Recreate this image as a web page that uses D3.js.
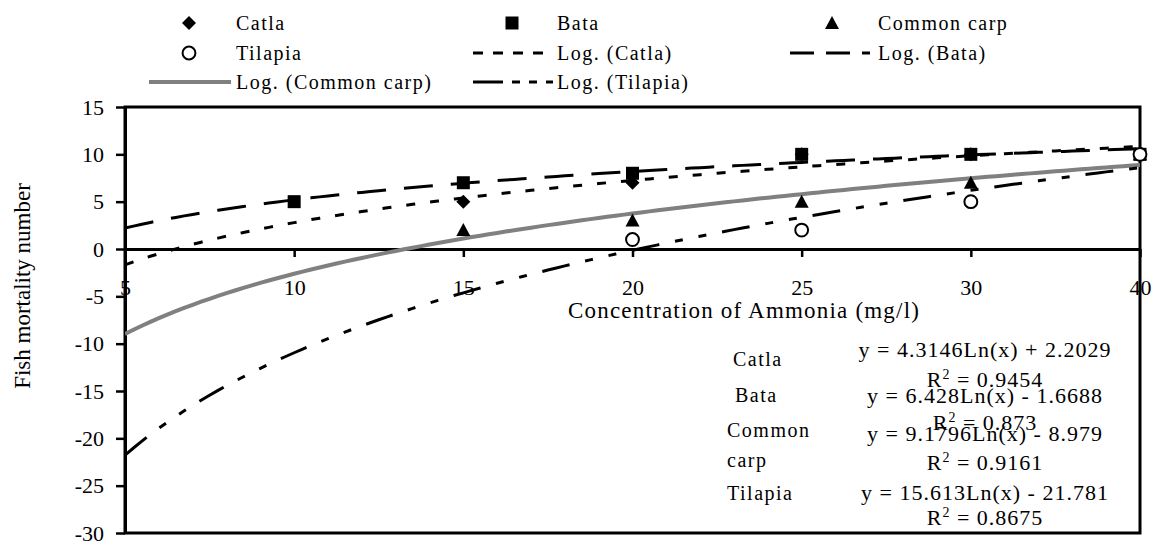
<!DOCTYPE html>
<html lang="en">
<head>
  <meta charset="utf-8" />
  <title>Fish mortality vs ammonia</title>
  <script src="https://cdn.jsdelivr.net/npm/d3@7"></script>
  <style>
    body { margin: 0; background: #fff; }
    text { font-family: "Liberation Serif", "Times New Roman", serif; fill: #000; }
  </style>
</head>
<body>
  <script>
    // data
    var cats = ["5", "10", "15", "20", "25", "30", "40"];
    var catla = [null, null, 5, 7, 10, 10, 10];
    var bata = [null, 5, 7, 8, 10, 10, 10];
    var commonCarp = [null, null, 2, 3, 5, 7, 10];
    var tilapia = [null, null, null, 1, 2, 5, 10];
    var yTicks = [15, 10, 5, 0, -5, -10, -15, -20, -25, -30];
    var boxNames = ["Catla", "Bata", "Common", "Tilapia"];
    var eqLabels = ["y = 4.3146Ln(x) + 2.2029", "y = 6.428Ln(x) - 1.6688", "y = 9.1796Ln(x) - 8.979", "y = 15.613Ln(x) - 21.781"];
    var r2Labels = ["0.9454", "0.873", "0.9161", "0.8675"];

    var width = 1152, height = 543;
    var plotL = 125, plotR = 1140, plotT = 107, plotB = 533;

    var svg = d3.select("body").append("svg").attr("width", width).attr("height", height);

    // category index 1..7, like Excel's line chart trendline x
    var x = d3.scaleLinear().domain([1, cats.length]).range([plotL, plotR]);
    var y = d3.scaleLinear().domain([-30, 15]).range([plotB, plotT]);

    // log trendline fit: y = a ln(t) + b
    function logFit(vals) {
      var pts = vals.map(function(v, i) { return [Math.log(i + 1), v]; }).filter(function(p) { return p[1] != null; });
      var mx = d3.mean(pts, function(p) { return p[0]; }), my = d3.mean(pts, function(p) { return p[1]; });
      var sxy = d3.sum(pts, function(p) { return (p[0] - mx) * (p[1] - my); });
      var sxx = d3.sum(pts, function(p) { return (p[0] - mx) * (p[0] - mx); });
      var a = sxy / sxx;
      return { a: a, b: my - a * mx };
    }

    var series = [
      { name: "Catla", vals: catla, sym: "diamond", dash: "9,15", color: "#000", w: 3, legDash: "10,10" },
      { name: "Bata", vals: bata, sym: "square", dash: "29,18", color: "#000", w: 3, legDash: "24,12" },
      { name: "Common carp", vals: commonCarp, sym: "triangle", dash: null, color: "#808080", w: 4, legDash: null },
      { name: "Tilapia", vals: tilapia, sym: "circle", dash: "28,16,8,16,8,16", color: "#000", w: 3, legDash: "30,9,8,9,8,9" }
    ];

    function symbolPath(type) {
      if (type == "diamond") return "M0,-7L7,0L0,7L-7,0Z";
      if (type == "square") return "M-6.5,-6.5H6.5V6.5H-6.5Z";
      if (type == "triangle") return "M0,-7L7,6H-7Z";
      return d3.symbol(d3.symbolCircle, 130)();
    }
    function drawSymbol(g, type, cx, cy) {
      var p = g.append("path").attr("d", symbolPath(type)).attr("transform", "translate(" + cx + "," + cy + ")");
      if (type == "circle") p.attr("fill", "#fff").attr("stroke", "#000").attr("stroke-width", 2);
      else p.attr("fill", "#000");
    }

    svg.append("clipPath").attr("id", "plot").append("rect")
      .attr("x", plotL).attr("y", plotT).attr("width", plotR - plotL).attr("height", plotB - plotT);

    // axes
    var yAxis = svg.append("g").attr("transform", "translate(" + plotL + ",0)")
      .call(d3.axisLeft(y).tickValues(yTicks).tickSize(9).tickSizeOuter(0).tickPadding(12)
        .tickFormat(function(d) { return String(d); }));
    var xAxis = svg.append("g").attr("transform", "translate(0," + y(0) + ")")
      .call(d3.axisBottom(x).tickValues(d3.range(1, cats.length + 1)).tickSize(8).tickSizeOuter(0).tickPadding(22)
        .tickFormat(function(i) { return cats[i - 1]; }));
    [yAxis, xAxis].forEach(function(a) {
      a.selectAll("text").attr("font-size", 22).attr("font-family", "Liberation Serif, serif").attr("fill", "#000");
      a.selectAll("line").attr("stroke", "#000").attr("stroke-width", 2.5);
      a.select(".domain").attr("stroke", "#000").attr("stroke-width", 3);
    });

    svg.append("rect").attr("x", plotL).attr("y", plotT).attr("width", plotR - plotL).attr("height", plotB - plotT)
      .attr("fill", "none").attr("stroke", "#000").attr("stroke-width", 3);

    // trendlines
    var tSteps = d3.range(1, cats.length + 0.001, 0.05);
    var plot = svg.append("g").attr("clip-path", "url(#plot)");
    series.forEach(function(s) {
      var f = logFit(s.vals);
      var line = d3.line().x(function(t) { return x(t); }).y(function(t) { return y(f.a * Math.log(t) + f.b); });
      plot.append("path").attr("d", line(tSteps)).attr("fill", "none")
        .attr("stroke", s.color).attr("stroke-width", s.w).attr("stroke-dasharray", s.dash);
    });

    // markers
    series.forEach(function(s) {
      var g = svg.append("g");
      s.vals.forEach(function(v, i) {
        if (v != null) drawSymbol(g, s.sym, x(i + 1), y(v));
      });
    });

    // axis titles
    svg.append("text").attr("x", 568).attr("y", 318).attr("font-size", 23).attr("letter-spacing", 1.2)
      .text("Concentration of Ammonia (mg/l)");
    svg.append("text").attr("transform", "translate(30,286) rotate(-90)").attr("text-anchor", "middle")
      .attr("font-size", 23).text("Fish mortality number");

    // legend
    var cols = [{ sx: 189, l0: 149, l1: 231, tx: 236 }, { sx: 512, l0: 473, l1: 553, tx: 557 }, { sx: 832, l0: 790, l1: 870, tx: 878 }];
    var rows = [23, 53, 82];
    var legItems = [
      { r: 0, c: 0, s: series[0], marker: true }, { r: 0, c: 1, s: series[1], marker: true }, { r: 0, c: 2, s: series[2], marker: true },
      { r: 1, c: 0, s: series[3], marker: true }, { r: 1, c: 1, s: series[0], marker: false }, { r: 1, c: 2, s: series[1], marker: false },
      { r: 2, c: 0, s: series[2], marker: false }, { r: 2, c: 1, s: series[3], marker: false }
    ];
    var leg = svg.append("g");
    legItems.forEach(function(it) {
      var c = cols[it.c], cy = rows[it.r];
      if (it.marker) {
        drawSymbol(leg, it.s.sym, c.sx, cy);
      } else {
        leg.append("line").attr("x1", c.l0).attr("x2", c.l1).attr("y1", cy).attr("y2", cy)
          .attr("stroke", it.s.color).attr("stroke-width", it.s.w).attr("stroke-dasharray", it.s.legDash);
      }
      leg.append("text").attr("x", c.tx).attr("y", cy + 7).attr("font-size", 20).attr("letter-spacing", 1.5)
        .text(it.marker ? it.s.name : "Log. (" + it.s.name + ")");
    });

    // equation box
    var nameY = [366, 402, 437, 500], eqY = [357, 403, 441, 500], rY = [387, 430, 470, 525];
    var box = svg.append("g");
    boxNames.forEach(function(n, i) {
      box.append("text").attr("x", i == 1 ? 735 : (i == 0 ? 733 : 727)).attr("y", nameY[i])
        .attr("font-size", 20).attr("letter-spacing", 1.5).text(n);
      box.append("text").attr("x", 985).attr("y", eqY[i]).attr("text-anchor", "middle")
        .attr("font-size", 22).attr("letter-spacing", 1).text(eqLabels[i]);
      var r = box.append("text").attr("x", 985).attr("y", rY[i]).attr("text-anchor", "middle")
        .attr("font-size", 22).attr("letter-spacing", 1);
      r.append("tspan").text("R");
      r.append("tspan").attr("font-size", 14).attr("dy", -8).text("2");
      r.append("tspan").attr("dy", 8).text(" = " + r2Labels[i]);
    });
    box.append("text").attr("x", 727).attr("y", 467).attr("font-size", 20).attr("letter-spacing", 1.5).text("carp");
  </script>
</body>
</html>
